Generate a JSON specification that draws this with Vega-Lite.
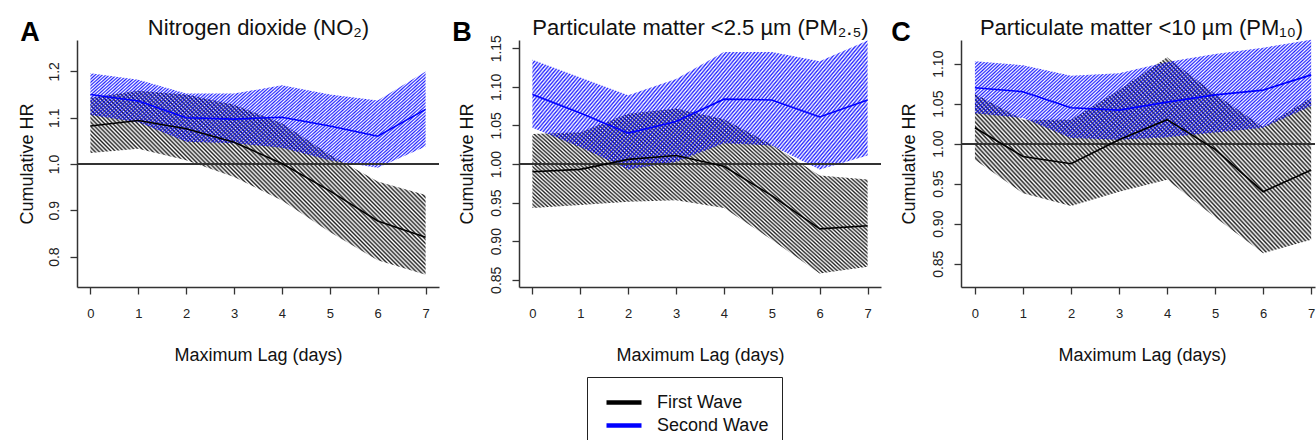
{
"$schema": "https://vega.github.io/schema/vega-lite/v6.json",
"padding": {"left": 18, "top": 16, "right": 0, "bottom": 0},
"bounds": "flush",
"spacing": 80,
"datasets": {"d": [
{"p":"A","w":"First Wave","lag":0,"hr":1.082,"lo":1.024,"hi":1.143},
{"p":"A","w":"First Wave","lag":1,"hr":1.094,"lo":1.033,"hi":1.158},
{"p":"A","w":"First Wave","lag":2,"hr":1.076,"lo":1.008,"hi":1.150},
{"p":"A","w":"First Wave","lag":3,"hr":1.047,"lo":0.972,"hi":1.128},
{"p":"A","w":"First Wave","lag":4,"hr":1.001,"lo":0.921,"hi":1.088},
{"p":"A","w":"First Wave","lag":5,"hr":0.942,"lo":0.853,"hi":1.020},
{"p":"A","w":"First Wave","lag":6,"hr":0.877,"lo":0.792,"hi":0.962},
{"p":"A","w":"First Wave","lag":7,"hr":0.842,"lo":0.761,"hi":0.933},
{"p":"A","w":"Second Wave","lag":0,"hr":1.150,"lo":1.106,"hi":1.196},
{"p":"A","w":"Second Wave","lag":1,"hr":1.136,"lo":1.090,"hi":1.182},
{"p":"A","w":"Second Wave","lag":2,"hr":1.100,"lo":1.048,"hi":1.152},
{"p":"A","w":"Second Wave","lag":3,"hr":1.097,"lo":1.045,"hi":1.152},
{"p":"A","w":"Second Wave","lag":4,"hr":1.101,"lo":1.035,"hi":1.170},
{"p":"A","w":"Second Wave","lag":5,"hr":1.082,"lo":1.008,"hi":1.150},
{"p":"A","w":"Second Wave","lag":6,"hr":1.060,"lo":0.992,"hi":1.137},
{"p":"A","w":"Second Wave","lag":7,"hr":1.118,"lo":1.038,"hi":1.200},
{"p":"B","w":"First Wave","lag":0,"hr":0.990,"lo":0.943,"hi":1.039},
{"p":"B","w":"First Wave","lag":1,"hr":0.993,"lo":0.947,"hi":1.041},
{"p":"B","w":"First Wave","lag":2,"hr":1.006,"lo":0.951,"hi":1.065},
{"p":"B","w":"First Wave","lag":3,"hr":1.011,"lo":0.953,"hi":1.072},
{"p":"B","w":"First Wave","lag":4,"hr":0.997,"lo":0.943,"hi":1.058},
{"p":"B","w":"First Wave","lag":5,"hr":0.959,"lo":0.902,"hi":1.025},
{"p":"B","w":"First Wave","lag":6,"hr":0.916,"lo":0.858,"hi":0.985},
{"p":"B","w":"First Wave","lag":7,"hr":0.920,"lo":0.867,"hi":0.980},
{"p":"B","w":"Second Wave","lag":0,"hr":1.090,"lo":1.047,"hi":1.135},
{"p":"B","w":"Second Wave","lag":1,"hr":1.066,"lo":1.022,"hi":1.112},
{"p":"B","w":"Second Wave","lag":2,"hr":1.040,"lo":0.993,"hi":1.089},
{"p":"B","w":"Second Wave","lag":3,"hr":1.055,"lo":1.003,"hi":1.110},
{"p":"B","w":"Second Wave","lag":4,"hr":1.084,"lo":1.027,"hi":1.145},
{"p":"B","w":"Second Wave","lag":5,"hr":1.083,"lo":1.024,"hi":1.145},
{"p":"B","w":"Second Wave","lag":6,"hr":1.061,"lo":0.993,"hi":1.133},
{"p":"B","w":"Second Wave","lag":7,"hr":1.083,"lo":1.011,"hi":1.160},
{"p":"C","w":"First Wave","lag":0,"hr":1.020,"lo":0.980,"hi":1.062},
{"p":"C","w":"First Wave","lag":1,"hr":0.984,"lo":0.938,"hi":1.030},
{"p":"C","w":"First Wave","lag":2,"hr":0.975,"lo":0.922,"hi":1.030},
{"p":"C","w":"First Wave","lag":3,"hr":1.005,"lo":0.940,"hi":1.067},
{"p":"C","w":"First Wave","lag":4,"hr":1.030,"lo":0.955,"hi":1.108},
{"p":"C","w":"First Wave","lag":5,"hr":0.993,"lo":0.908,"hi":1.062},
{"p":"C","w":"First Wave","lag":6,"hr":0.940,"lo":0.863,"hi":1.021},
{"p":"C","w":"First Wave","lag":7,"hr":0.967,"lo":0.880,"hi":1.057},
{"p":"C","w":"Second Wave","lag":0,"hr":1.070,"lo":1.038,"hi":1.103},
{"p":"C","w":"Second Wave","lag":1,"hr":1.065,"lo":1.032,"hi":1.098},
{"p":"C","w":"Second Wave","lag":2,"hr":1.045,"lo":1.007,"hi":1.085},
{"p":"C","w":"Second Wave","lag":3,"hr":1.042,"lo":1.005,"hi":1.088},
{"p":"C","w":"Second Wave","lag":4,"hr":1.052,"lo":1.008,"hi":1.102},
{"p":"C","w":"Second Wave","lag":5,"hr":1.061,"lo":1.014,"hi":1.112},
{"p":"C","w":"Second Wave","lag":6,"hr":1.067,"lo":1.020,"hi":1.120},
{"p":"C","w":"Second Wave","lag":7,"hr":1.086,"lo":1.047,"hi":1.130}
]},
"hconcat": [
{
 "width": 362, "height": 247,
 "data": {"name": "d"},
 "transform": [{"filter": "datum.p === 'A'"}],
 "layer": [
  {"transform": [{"filter": "datum.w === 'First Wave'"}],
   "mark": {"type": "area", "style": "hb"},
   "encoding": {
    "x": {"field": "lag", "type": "quantitative", "scale": {"domain": [-0.28, 7.28], "nice": false, "zero": false},
          "axis": {"values": [0,1,2,3,4,5,6,7], "format": "d", "title": "Maximum Lag (days)", "titleX": 181, "titleY": 73}},
    "y": {"field": "lo", "type": "quantitative", "scale": {"domain": [0.7343, 1.2678], "nice": false, "zero": false},
          "axis": {"values": [0.8,0.9,1.0,1.1,1.2], "format": ".1f", "title": "Cumulative HR", "titleAngle": 270, "titleX": -45, "titleY": 123.5}},
    "y2": {"field": "hi"}
   }},
  {"transform": [{"filter": "datum.w === 'Second Wave'"}],
   "mark": {"type": "area", "style": "hu"},
   "encoding": {
    "x": {"field": "lag", "type": "quantitative", "axis": null},
    "y": {"field": "lo", "type": "quantitative", "axis": null},
    "y2": {"field": "hi"}
   }},
  {"mark": {"type": "rule", "color": "#333333", "strokeWidth": 1.3},
   "encoding": {"y": {"datum": 1, "type": "quantitative", "axis": null}}},
  {"mark": {"type": "line", "strokeWidth": 1.6},
   "encoding": {
    "x": {"field": "lag", "type": "quantitative", "scale": {"domain": [-0.28, 7.28], "nice": false, "zero": false},
          "axis": {"orient": "top", "title": "Nitrogen dioxide (NO₂)", "labels": false, "ticks": false, "domain": false, "titleX": 181, "titleY": -6, "titleBaseline": "alphabetic", "titleAlign": "center", "titleFontSize": 22}},
    "y": {"field": "hr", "type": "quantitative", "scale": {"domain": [0.7343, 1.2678], "nice": false, "zero": false},
          "axis": {"orient": "right", "title": "A", "labels": false, "ticks": false, "domain": false, "titleAngle": 360, "titleX": -419.3, "titleY": 0, "titleAlign": "left", "titleBaseline": "alphabetic", "titleFontSize": 27, "titleFontWeight": "bold", "titleColor": "#000000"}},
    "color": {"field": "w", "type": "nominal", "scale": {"domain": ["First Wave", "Second Wave"], "range": ["#000000", "#0000ff"]},
              "legend": {"orient": "none", "legendX": 510, "legendY": 337, "title": null, "direction": "vertical", "strokeColor": "#222222", "padding": 13, "symbolType": "M-0.6,0H2.9", "symbolSize": 400, "symbolStrokeWidth": 4.5, "labelFontSize": 18, "labelFont": "Liberation Sans", "labelOffset": 32, "rowPadding": 1, "labelColor": "#111111"}}
   }}
 ],
 "resolve": {"axis": {"x": "independent", "y": "independent"}}
},
{
 "width": 362, "height": 247,
 "data": {"name": "d"},
 "transform": [{"filter": "datum.p === 'B'"}],
 "layer": [
  {"transform": [{"filter": "datum.w === 'First Wave'"}],
   "mark": {"type": "area", "style": "hb"},
   "encoding": {
    "x": {"field": "lag", "type": "quantitative", "scale": {"domain": [-0.28, 7.28], "nice": false, "zero": false},
          "axis": {"values": [0,1,2,3,4,5,6,7], "format": "d", "title": "Maximum Lag (days)", "titleX": 181, "titleY": 73}},
    "y": {"field": "lo", "type": "quantitative", "scale": {"domain": [0.84065, 1.16065], "nice": false, "zero": false},
          "axis": {"values": [0.85,0.9,0.95,1.0,1.05,1.1,1.15], "format": ".2f", "title": "Cumulative HR", "titleAngle": 270, "titleX": -47, "titleY": 123.5}},
    "y2": {"field": "hi"}
   }},
  {"transform": [{"filter": "datum.w === 'Second Wave'"}],
   "mark": {"type": "area", "style": "hu"},
   "encoding": {
    "x": {"field": "lag", "type": "quantitative", "axis": null},
    "y": {"field": "lo", "type": "quantitative", "axis": null},
    "y2": {"field": "hi"}
   }},
  {"mark": {"type": "rule", "color": "#333333", "strokeWidth": 1.3},
   "encoding": {"y": {"datum": 1, "type": "quantitative", "axis": null}}},
  {"mark": {"type": "line", "strokeWidth": 1.6},
   "encoding": {
    "x": {"field": "lag", "type": "quantitative", "scale": {"domain": [-0.28, 7.28], "nice": false, "zero": false},
          "axis": {"orient": "top", "title": "Particulate matter <2.5 µm (PM₂.₅)", "labels": false, "ticks": false, "domain": false, "titleX": 181, "titleY": -6, "titleBaseline": "alphabetic", "titleAlign": "center", "titleFontSize": 22}},
    "y": {"field": "hr", "type": "quantitative", "scale": {"domain": [0.84065, 1.16065], "nice": false, "zero": false},
          "axis": {"orient": "right", "title": "B", "labels": false, "ticks": false, "domain": false, "titleAngle": 360, "titleX": -429.3, "titleY": 0, "titleAlign": "left", "titleBaseline": "alphabetic", "titleFontSize": 27, "titleFontWeight": "bold", "titleColor": "#000000"}},
    "color": {"field": "w", "type": "nominal", "scale": {"domain": ["First Wave", "Second Wave"], "range": ["#000000", "#0000ff"]}}
   }}
 ],
 "resolve": {"axis": {"x": "independent", "y": "independent"}}
},
{
 "width": 354, "height": 247,
 "data": {"name": "d"},
 "transform": [{"filter": "datum.p === 'C'"}],
 "layer": [
  {"transform": [{"filter": "datum.w === 'First Wave'"}],
   "mark": {"type": "area", "style": "hb"},
   "encoding": {
    "x": {"field": "lag", "type": "quantitative", "scale": {"domain": [-0.29, 7.08], "nice": false, "zero": false},
          "axis": {"values": [0,1,2,3,4,5,6,7], "format": "d", "title": "Maximum Lag (days)", "titleX": 181, "titleY": 73}},
    "y": {"field": "lo", "type": "quantitative", "scale": {"domain": [0.8209, 1.1296], "nice": false, "zero": false},
          "axis": {"values": [0.85,0.9,0.95,1.0,1.05,1.1], "format": ".2f", "title": "Cumulative HR", "titleAngle": 270, "titleX": -47, "titleY": 123.5}},
    "y2": {"field": "hi"}
   }},
  {"transform": [{"filter": "datum.w === 'Second Wave'"}],
   "mark": {"type": "area", "style": "hu"},
   "encoding": {
    "x": {"field": "lag", "type": "quantitative", "axis": null},
    "y": {"field": "lo", "type": "quantitative", "axis": null},
    "y2": {"field": "hi"}
   }},
  {"mark": {"type": "rule", "color": "#333333", "strokeWidth": 1.3},
   "encoding": {"y": {"datum": 1, "type": "quantitative", "axis": null}}},
  {"mark": {"type": "line", "strokeWidth": 1.6},
   "encoding": {
    "x": {"field": "lag", "type": "quantitative", "scale": {"domain": [-0.29, 7.08], "nice": false, "zero": false},
          "axis": {"orient": "top", "title": "Particulate matter <10 µm (PM₁₀)", "labels": false, "ticks": false, "domain": false, "titleX": 180, "titleY": -6, "titleBaseline": "alphabetic", "titleAlign": "center", "titleFontSize": 22}},
    "y": {"field": "hr", "type": "quantitative", "scale": {"domain": [0.8209, 1.1296], "nice": false, "zero": false},
          "axis": {"orient": "right", "title": "C", "labels": false, "ticks": false, "domain": false, "titleAngle": 360, "titleX": -424.3, "titleY": 0, "titleAlign": "left", "titleBaseline": "alphabetic", "titleFontSize": 27, "titleFontWeight": "bold", "titleColor": "#000000"}},
    "color": {"field": "w", "type": "nominal", "scale": {"domain": ["First Wave", "Second Wave"], "range": ["#000000", "#0000ff"]}}
   }}
 ],
 "resolve": {"axis": {"x": "independent", "y": "independent"}}
}
],
"config": {
 "view": {"stroke": null},
 "font": "Liberation Sans",
 "style": {
  "hb": {"color": {"gradient": "linear", "x1": 1, "y1": 0, "x2": -0.192, "y2": 0.6456, "stops": [
{"offset":0,"color":"#0000"},{"offset":0.004,"color":"#000d"},{"offset":0.008,"color":"#0000"},{"offset":0.012,"color":"#000d"},{"offset":0.016,"color":"#0000"},{"offset":0.02,"color":"#000d"},{"offset":0.024,"color":"#0000"},{"offset":0.028,"color":"#000d"},{"offset":0.032,"color":"#0000"},{"offset":0.036,"color":"#000d"},{"offset":0.04,"color":"#0000"},{"offset":0.044,"color":"#000d"},{"offset":0.048,"color":"#0000"},{"offset":0.052,"color":"#000d"},{"offset":0.056,"color":"#0000"},{"offset":0.06,"color":"#000d"},{"offset":0.064,"color":"#0000"},{"offset":0.068,"color":"#000d"},{"offset":0.072,"color":"#0000"},{"offset":0.076,"color":"#000d"},{"offset":0.08,"color":"#0000"},{"offset":0.084,"color":"#000d"},{"offset":0.088,"color":"#0000"},{"offset":0.092,"color":"#000d"},{"offset":0.096,"color":"#0000"},{"offset":0.1,"color":"#000d"},{"offset":0.104,"color":"#0000"},{"offset":0.108,"color":"#000d"},{"offset":0.112,"color":"#0000"},{"offset":0.116,"color":"#000d"},{"offset":0.12,"color":"#0000"},{"offset":0.124,"color":"#000d"},{"offset":0.128,"color":"#0000"},{"offset":0.132,"color":"#000d"},{"offset":0.136,"color":"#0000"},{"offset":0.14,"color":"#000d"},{"offset":0.144,"color":"#0000"},{"offset":0.148,"color":"#000d"},{"offset":0.152,"color":"#0000"},{"offset":0.156,"color":"#000d"},{"offset":0.16,"color":"#0000"},{"offset":0.164,"color":"#000d"},{"offset":0.168,"color":"#0000"},{"offset":0.172,"color":"#000d"},{"offset":0.176,"color":"#0000"},{"offset":0.18,"color":"#000d"},{"offset":0.184,"color":"#0000"},{"offset":0.188,"color":"#000d"},{"offset":0.192,"color":"#0000"},{"offset":0.196,"color":"#000d"},
{"offset":0.2,"color":"#0000"},{"offset":0.204,"color":"#000d"},{"offset":0.208,"color":"#0000"},{"offset":0.212,"color":"#000d"},{"offset":0.216,"color":"#0000"},{"offset":0.22,"color":"#000d"},{"offset":0.224,"color":"#0000"},{"offset":0.228,"color":"#000d"},{"offset":0.232,"color":"#0000"},{"offset":0.236,"color":"#000d"},{"offset":0.24,"color":"#0000"},{"offset":0.244,"color":"#000d"},{"offset":0.248,"color":"#0000"},{"offset":0.252,"color":"#000d"},{"offset":0.256,"color":"#0000"},{"offset":0.26,"color":"#000d"},{"offset":0.264,"color":"#0000"},{"offset":0.268,"color":"#000d"},{"offset":0.272,"color":"#0000"},{"offset":0.276,"color":"#000d"},{"offset":0.28,"color":"#0000"},{"offset":0.284,"color":"#000d"},{"offset":0.288,"color":"#0000"},{"offset":0.292,"color":"#000d"},{"offset":0.296,"color":"#0000"},{"offset":0.3,"color":"#000d"},{"offset":0.304,"color":"#0000"},{"offset":0.308,"color":"#000d"},{"offset":0.312,"color":"#0000"},{"offset":0.316,"color":"#000d"},{"offset":0.32,"color":"#0000"},{"offset":0.324,"color":"#000d"},{"offset":0.328,"color":"#0000"},{"offset":0.332,"color":"#000d"},{"offset":0.336,"color":"#0000"},{"offset":0.34,"color":"#000d"},{"offset":0.344,"color":"#0000"},{"offset":0.348,"color":"#000d"},{"offset":0.352,"color":"#0000"},{"offset":0.356,"color":"#000d"},{"offset":0.36,"color":"#0000"},{"offset":0.364,"color":"#000d"},{"offset":0.368,"color":"#0000"},{"offset":0.372,"color":"#000d"},{"offset":0.376,"color":"#0000"},{"offset":0.38,"color":"#000d"},{"offset":0.384,"color":"#0000"},{"offset":0.388,"color":"#000d"},{"offset":0.392,"color":"#0000"},{"offset":0.396,"color":"#000d"},
{"offset":0.4,"color":"#0000"},{"offset":0.404,"color":"#000d"},{"offset":0.408,"color":"#0000"},{"offset":0.412,"color":"#000d"},{"offset":0.416,"color":"#0000"},{"offset":0.42,"color":"#000d"},{"offset":0.424,"color":"#0000"},{"offset":0.428,"color":"#000d"},{"offset":0.432,"color":"#0000"},{"offset":0.436,"color":"#000d"},{"offset":0.44,"color":"#0000"},{"offset":0.444,"color":"#000d"},{"offset":0.448,"color":"#0000"},{"offset":0.452,"color":"#000d"},{"offset":0.456,"color":"#0000"},{"offset":0.46,"color":"#000d"},{"offset":0.464,"color":"#0000"},{"offset":0.468,"color":"#000d"},{"offset":0.472,"color":"#0000"},{"offset":0.476,"color":"#000d"},{"offset":0.48,"color":"#0000"},{"offset":0.484,"color":"#000d"},{"offset":0.488,"color":"#0000"},{"offset":0.492,"color":"#000d"},{"offset":0.496,"color":"#0000"},{"offset":0.5,"color":"#000d"},{"offset":0.504,"color":"#0000"},{"offset":0.508,"color":"#000d"},{"offset":0.512,"color":"#0000"},{"offset":0.516,"color":"#000d"},{"offset":0.52,"color":"#0000"},{"offset":0.524,"color":"#000d"},{"offset":0.528,"color":"#0000"},{"offset":0.532,"color":"#000d"},{"offset":0.536,"color":"#0000"},{"offset":0.54,"color":"#000d"},{"offset":0.544,"color":"#0000"},{"offset":0.548,"color":"#000d"},{"offset":0.552,"color":"#0000"},{"offset":0.556,"color":"#000d"},{"offset":0.56,"color":"#0000"},{"offset":0.564,"color":"#000d"},{"offset":0.568,"color":"#0000"},{"offset":0.572,"color":"#000d"},{"offset":0.576,"color":"#0000"},{"offset":0.58,"color":"#000d"},{"offset":0.584,"color":"#0000"},{"offset":0.588,"color":"#000d"},{"offset":0.592,"color":"#0000"},{"offset":0.596,"color":"#000d"},
{"offset":0.6,"color":"#0000"},{"offset":0.604,"color":"#000d"},{"offset":0.608,"color":"#0000"},{"offset":0.612,"color":"#000d"},{"offset":0.616,"color":"#0000"},{"offset":0.62,"color":"#000d"},{"offset":0.624,"color":"#0000"},{"offset":0.628,"color":"#000d"},{"offset":0.632,"color":"#0000"},{"offset":0.636,"color":"#000d"},{"offset":0.64,"color":"#0000"},{"offset":0.644,"color":"#000d"},{"offset":0.648,"color":"#0000"},{"offset":0.652,"color":"#000d"},{"offset":0.656,"color":"#0000"},{"offset":0.66,"color":"#000d"},{"offset":0.664,"color":"#0000"},{"offset":0.668,"color":"#000d"},{"offset":0.672,"color":"#0000"},{"offset":0.676,"color":"#000d"},{"offset":0.68,"color":"#0000"},{"offset":0.684,"color":"#000d"},{"offset":0.688,"color":"#0000"},{"offset":0.692,"color":"#000d"},{"offset":0.696,"color":"#0000"},{"offset":0.7,"color":"#000d"},{"offset":0.704,"color":"#0000"},{"offset":0.708,"color":"#000d"},{"offset":0.712,"color":"#0000"},{"offset":0.716,"color":"#000d"},{"offset":0.72,"color":"#0000"},{"offset":0.724,"color":"#000d"},{"offset":0.728,"color":"#0000"},{"offset":0.732,"color":"#000d"},{"offset":0.736,"color":"#0000"},{"offset":0.74,"color":"#000d"},{"offset":0.744,"color":"#0000"},{"offset":0.748,"color":"#000d"},{"offset":0.752,"color":"#0000"},{"offset":0.756,"color":"#000d"},{"offset":0.76,"color":"#0000"},{"offset":0.764,"color":"#000d"},{"offset":0.768,"color":"#0000"},{"offset":0.772,"color":"#000d"},{"offset":0.776,"color":"#0000"},{"offset":0.78,"color":"#000d"},{"offset":0.784,"color":"#0000"},{"offset":0.788,"color":"#000d"},{"offset":0.792,"color":"#0000"},{"offset":0.796,"color":"#000d"},
{"offset":0.8,"color":"#0000"},{"offset":0.804,"color":"#000d"},{"offset":0.808,"color":"#0000"},{"offset":0.812,"color":"#000d"},{"offset":0.816,"color":"#0000"},{"offset":0.82,"color":"#000d"},{"offset":0.824,"color":"#0000"},{"offset":0.828,"color":"#000d"},{"offset":0.832,"color":"#0000"},{"offset":0.836,"color":"#000d"},{"offset":0.84,"color":"#0000"},{"offset":0.844,"color":"#000d"},{"offset":0.848,"color":"#0000"},{"offset":0.852,"color":"#000d"},{"offset":0.856,"color":"#0000"},{"offset":0.86,"color":"#000d"},{"offset":0.864,"color":"#0000"},{"offset":0.868,"color":"#000d"},{"offset":0.872,"color":"#0000"},{"offset":0.876,"color":"#000d"},{"offset":0.88,"color":"#0000"},{"offset":0.884,"color":"#000d"},{"offset":0.888,"color":"#0000"},{"offset":0.892,"color":"#000d"},{"offset":0.896,"color":"#0000"},{"offset":0.9,"color":"#000d"},{"offset":0.904,"color":"#0000"},{"offset":0.908,"color":"#000d"},{"offset":0.912,"color":"#0000"},{"offset":0.916,"color":"#000d"},{"offset":0.92,"color":"#0000"},{"offset":0.924,"color":"#000d"},{"offset":0.928,"color":"#0000"},{"offset":0.932,"color":"#000d"},{"offset":0.936,"color":"#0000"},{"offset":0.94,"color":"#000d"},{"offset":0.944,"color":"#0000"},{"offset":0.948,"color":"#000d"},{"offset":0.952,"color":"#0000"},{"offset":0.956,"color":"#000d"},{"offset":0.96,"color":"#0000"},{"offset":0.964,"color":"#000d"},{"offset":0.968,"color":"#0000"},{"offset":0.972,"color":"#000d"},{"offset":0.976,"color":"#0000"},{"offset":0.98,"color":"#000d"},{"offset":0.984,"color":"#0000"},{"offset":0.988,"color":"#000d"},{"offset":0.992,"color":"#0000"},{"offset":0.996,"color":"#000d"},
{"offset":1,"color":"#0000"}]}},
  "hu": {"color": {"gradient": "linear", "x1": 0, "y1": 0, "x2": 1.1977, "y2": 0.385, "stops": [
{"offset":0,"color":"#00f0"},{"offset":0.004,"color":"#00fd"},{"offset":0.008,"color":"#00f0"},{"offset":0.012,"color":"#00fd"},{"offset":0.016,"color":"#00f0"},{"offset":0.02,"color":"#00fd"},{"offset":0.024,"color":"#00f0"},{"offset":0.028,"color":"#00fd"},{"offset":0.032,"color":"#00f0"},{"offset":0.036,"color":"#00fd"},{"offset":0.04,"color":"#00f0"},{"offset":0.044,"color":"#00fd"},{"offset":0.048,"color":"#00f0"},{"offset":0.052,"color":"#00fd"},{"offset":0.056,"color":"#00f0"},{"offset":0.06,"color":"#00fd"},{"offset":0.064,"color":"#00f0"},{"offset":0.068,"color":"#00fd"},{"offset":0.072,"color":"#00f0"},{"offset":0.076,"color":"#00fd"},{"offset":0.08,"color":"#00f0"},{"offset":0.084,"color":"#00fd"},{"offset":0.088,"color":"#00f0"},{"offset":0.092,"color":"#00fd"},{"offset":0.096,"color":"#00f0"},{"offset":0.1,"color":"#00fd"},{"offset":0.104,"color":"#00f0"},{"offset":0.108,"color":"#00fd"},{"offset":0.112,"color":"#00f0"},{"offset":0.116,"color":"#00fd"},{"offset":0.12,"color":"#00f0"},{"offset":0.124,"color":"#00fd"},{"offset":0.128,"color":"#00f0"},{"offset":0.132,"color":"#00fd"},{"offset":0.136,"color":"#00f0"},{"offset":0.14,"color":"#00fd"},{"offset":0.144,"color":"#00f0"},{"offset":0.148,"color":"#00fd"},{"offset":0.152,"color":"#00f0"},{"offset":0.156,"color":"#00fd"},{"offset":0.16,"color":"#00f0"},{"offset":0.164,"color":"#00fd"},{"offset":0.168,"color":"#00f0"},{"offset":0.172,"color":"#00fd"},{"offset":0.176,"color":"#00f0"},{"offset":0.18,"color":"#00fd"},{"offset":0.184,"color":"#00f0"},{"offset":0.188,"color":"#00fd"},{"offset":0.192,"color":"#00f0"},{"offset":0.196,"color":"#00fd"},
{"offset":0.2,"color":"#00f0"},{"offset":0.204,"color":"#00fd"},{"offset":0.208,"color":"#00f0"},{"offset":0.212,"color":"#00fd"},{"offset":0.216,"color":"#00f0"},{"offset":0.22,"color":"#00fd"},{"offset":0.224,"color":"#00f0"},{"offset":0.228,"color":"#00fd"},{"offset":0.232,"color":"#00f0"},{"offset":0.236,"color":"#00fd"},{"offset":0.24,"color":"#00f0"},{"offset":0.244,"color":"#00fd"},{"offset":0.248,"color":"#00f0"},{"offset":0.252,"color":"#00fd"},{"offset":0.256,"color":"#00f0"},{"offset":0.26,"color":"#00fd"},{"offset":0.264,"color":"#00f0"},{"offset":0.268,"color":"#00fd"},{"offset":0.272,"color":"#00f0"},{"offset":0.276,"color":"#00fd"},{"offset":0.28,"color":"#00f0"},{"offset":0.284,"color":"#00fd"},{"offset":0.288,"color":"#00f0"},{"offset":0.292,"color":"#00fd"},{"offset":0.296,"color":"#00f0"},{"offset":0.3,"color":"#00fd"},{"offset":0.304,"color":"#00f0"},{"offset":0.308,"color":"#00fd"},{"offset":0.312,"color":"#00f0"},{"offset":0.316,"color":"#00fd"},{"offset":0.32,"color":"#00f0"},{"offset":0.324,"color":"#00fd"},{"offset":0.328,"color":"#00f0"},{"offset":0.332,"color":"#00fd"},{"offset":0.336,"color":"#00f0"},{"offset":0.34,"color":"#00fd"},{"offset":0.344,"color":"#00f0"},{"offset":0.348,"color":"#00fd"},{"offset":0.352,"color":"#00f0"},{"offset":0.356,"color":"#00fd"},{"offset":0.36,"color":"#00f0"},{"offset":0.364,"color":"#00fd"},{"offset":0.368,"color":"#00f0"},{"offset":0.372,"color":"#00fd"},{"offset":0.376,"color":"#00f0"},{"offset":0.38,"color":"#00fd"},{"offset":0.384,"color":"#00f0"},{"offset":0.388,"color":"#00fd"},{"offset":0.392,"color":"#00f0"},{"offset":0.396,"color":"#00fd"},
{"offset":0.4,"color":"#00f0"},{"offset":0.404,"color":"#00fd"},{"offset":0.408,"color":"#00f0"},{"offset":0.412,"color":"#00fd"},{"offset":0.416,"color":"#00f0"},{"offset":0.42,"color":"#00fd"},{"offset":0.424,"color":"#00f0"},{"offset":0.428,"color":"#00fd"},{"offset":0.432,"color":"#00f0"},{"offset":0.436,"color":"#00fd"},{"offset":0.44,"color":"#00f0"},{"offset":0.444,"color":"#00fd"},{"offset":0.448,"color":"#00f0"},{"offset":0.452,"color":"#00fd"},{"offset":0.456,"color":"#00f0"},{"offset":0.46,"color":"#00fd"},{"offset":0.464,"color":"#00f0"},{"offset":0.468,"color":"#00fd"},{"offset":0.472,"color":"#00f0"},{"offset":0.476,"color":"#00fd"},{"offset":0.48,"color":"#00f0"},{"offset":0.484,"color":"#00fd"},{"offset":0.488,"color":"#00f0"},{"offset":0.492,"color":"#00fd"},{"offset":0.496,"color":"#00f0"},{"offset":0.5,"color":"#00fd"},{"offset":0.504,"color":"#00f0"},{"offset":0.508,"color":"#00fd"},{"offset":0.512,"color":"#00f0"},{"offset":0.516,"color":"#00fd"},{"offset":0.52,"color":"#00f0"},{"offset":0.524,"color":"#00fd"},{"offset":0.528,"color":"#00f0"},{"offset":0.532,"color":"#00fd"},{"offset":0.536,"color":"#00f0"},{"offset":0.54,"color":"#00fd"},{"offset":0.544,"color":"#00f0"},{"offset":0.548,"color":"#00fd"},{"offset":0.552,"color":"#00f0"},{"offset":0.556,"color":"#00fd"},{"offset":0.56,"color":"#00f0"},{"offset":0.564,"color":"#00fd"},{"offset":0.568,"color":"#00f0"},{"offset":0.572,"color":"#00fd"},{"offset":0.576,"color":"#00f0"},{"offset":0.58,"color":"#00fd"},{"offset":0.584,"color":"#00f0"},{"offset":0.588,"color":"#00fd"},{"offset":0.592,"color":"#00f0"},{"offset":0.596,"color":"#00fd"},
{"offset":0.6,"color":"#00f0"},{"offset":0.604,"color":"#00fd"},{"offset":0.608,"color":"#00f0"},{"offset":0.612,"color":"#00fd"},{"offset":0.616,"color":"#00f0"},{"offset":0.62,"color":"#00fd"},{"offset":0.624,"color":"#00f0"},{"offset":0.628,"color":"#00fd"},{"offset":0.632,"color":"#00f0"},{"offset":0.636,"color":"#00fd"},{"offset":0.64,"color":"#00f0"},{"offset":0.644,"color":"#00fd"},{"offset":0.648,"color":"#00f0"},{"offset":0.652,"color":"#00fd"},{"offset":0.656,"color":"#00f0"},{"offset":0.66,"color":"#00fd"},{"offset":0.664,"color":"#00f0"},{"offset":0.668,"color":"#00fd"},{"offset":0.672,"color":"#00f0"},{"offset":0.676,"color":"#00fd"},{"offset":0.68,"color":"#00f0"},{"offset":0.684,"color":"#00fd"},{"offset":0.688,"color":"#00f0"},{"offset":0.692,"color":"#00fd"},{"offset":0.696,"color":"#00f0"},{"offset":0.7,"color":"#00fd"},{"offset":0.704,"color":"#00f0"},{"offset":0.708,"color":"#00fd"},{"offset":0.712,"color":"#00f0"},{"offset":0.716,"color":"#00fd"},{"offset":0.72,"color":"#00f0"},{"offset":0.724,"color":"#00fd"},{"offset":0.728,"color":"#00f0"},{"offset":0.732,"color":"#00fd"},{"offset":0.736,"color":"#00f0"},{"offset":0.74,"color":"#00fd"},{"offset":0.744,"color":"#00f0"},{"offset":0.748,"color":"#00fd"},{"offset":0.752,"color":"#00f0"},{"offset":0.756,"color":"#00fd"},{"offset":0.76,"color":"#00f0"},{"offset":0.764,"color":"#00fd"},{"offset":0.768,"color":"#00f0"},{"offset":0.772,"color":"#00fd"},{"offset":0.776,"color":"#00f0"},{"offset":0.78,"color":"#00fd"},{"offset":0.784,"color":"#00f0"},{"offset":0.788,"color":"#00fd"},{"offset":0.792,"color":"#00f0"},{"offset":0.796,"color":"#00fd"},
{"offset":0.8,"color":"#00f0"},{"offset":0.804,"color":"#00fd"},{"offset":0.808,"color":"#00f0"},{"offset":0.812,"color":"#00fd"},{"offset":0.816,"color":"#00f0"},{"offset":0.82,"color":"#00fd"},{"offset":0.824,"color":"#00f0"},{"offset":0.828,"color":"#00fd"},{"offset":0.832,"color":"#00f0"},{"offset":0.836,"color":"#00fd"},{"offset":0.84,"color":"#00f0"},{"offset":0.844,"color":"#00fd"},{"offset":0.848,"color":"#00f0"},{"offset":0.852,"color":"#00fd"},{"offset":0.856,"color":"#00f0"},{"offset":0.86,"color":"#00fd"},{"offset":0.864,"color":"#00f0"},{"offset":0.868,"color":"#00fd"},{"offset":0.872,"color":"#00f0"},{"offset":0.876,"color":"#00fd"},{"offset":0.88,"color":"#00f0"},{"offset":0.884,"color":"#00fd"},{"offset":0.888,"color":"#00f0"},{"offset":0.892,"color":"#00fd"},{"offset":0.896,"color":"#00f0"},{"offset":0.9,"color":"#00fd"},{"offset":0.904,"color":"#00f0"},{"offset":0.908,"color":"#00fd"},{"offset":0.912,"color":"#00f0"},{"offset":0.916,"color":"#00fd"},{"offset":0.92,"color":"#00f0"},{"offset":0.924,"color":"#00fd"},{"offset":0.928,"color":"#00f0"},{"offset":0.932,"color":"#00fd"},{"offset":0.936,"color":"#00f0"},{"offset":0.94,"color":"#00fd"},{"offset":0.944,"color":"#00f0"},{"offset":0.948,"color":"#00fd"},{"offset":0.952,"color":"#00f0"},{"offset":0.956,"color":"#00fd"},{"offset":0.96,"color":"#00f0"},{"offset":0.964,"color":"#00fd"},{"offset":0.968,"color":"#00f0"},{"offset":0.972,"color":"#00fd"},{"offset":0.976,"color":"#00f0"},{"offset":0.98,"color":"#00fd"},{"offset":0.984,"color":"#00f0"},{"offset":0.988,"color":"#00fd"},{"offset":0.992,"color":"#00f0"},{"offset":0.996,"color":"#00fd"},
{"offset":1,"color":"#00f0"}]}}
 },
 "axis": {"grid": false, "domainColor": "#333333", "domainWidth": 1.5, "tickColor": "#333333", "tickWidth": 1.3, "tickSize": 7, "labelFont": "Liberation Sans", "labelFontSize": 13, "labelColor": "#222222", "titleFont": "Liberation Sans", "titleFontSize": 18, "titleFontWeight": "normal", "titleColor": "#111111"},
 "axisX": {"labelPadding": 13, "labelAngle": 0, "titleBaseline": "alphabetic", "titleAlign": "center"},
 "axisY": {"labelAngle": 270, "labelAlign": "center", "labelBaseline": "alphabetic", "labelPadding": 12, "labelFontSize": 14, "titleBaseline": "alphabetic", "titleAlign": "center"}
}
}
